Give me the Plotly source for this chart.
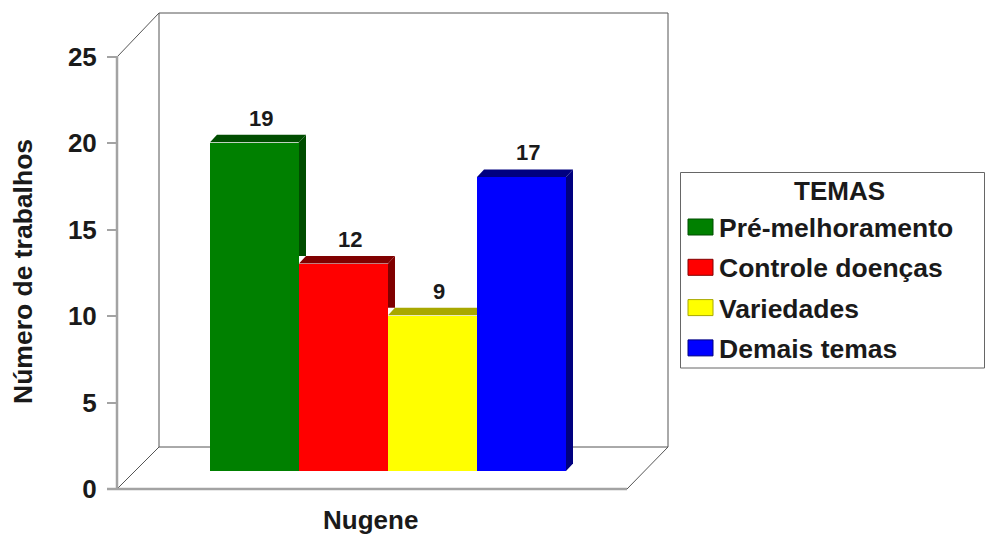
import plotly.graph_objects as go

categories = ["Pré-melhoramento", "Controle doenças", "Variedades", "Demais temas"]
values = [19, 12, 9, 17]
front_colors = ["#008000", "#ff0000", "#ffff00", "#0000ff"]
dark_colors = ["#004d00", "#800000", "#a8a800", "#000080"]
y_ticks = [0, 5, 10, 15, 20, 25]
legend_title = "TEMAS"
x_title = "Nugene"
y_title = "Número de trabalhos"

W, H = 985, 536
FONT = "Liberation Sans, Arial, sans-serif"
TXT = "#1a1a1a"
PX_Y = 17.3
PX_X = 89.0
X0 = 254.5
AX_L, AX_R, AX_B, AX_T = 117, 668, 489, 13
BAR_B = 471
DX, DY = 7 / PX_X, 7.5 / PX_Y


def px(x):
    return x / W


def py(y):
    return 1 - y / H


positions = list(range(len(values)))
fig = go.Figure()

# invisible carrier so the unshifted tick axis gets drawn
fig.add_trace(go.Scatter(x=positions[:1], y=y_ticks[:1], mode="markers", marker=dict(opacity=0),
                         hoverinfo="skip", showlegend=False))

# depth faces (clipped against the neighbouring bar, which stands in front)
for i, (p, v) in enumerate(zip(positions, values)):
    x0, x1 = p - 0.5, p + 0.5
    nxt = values[i + 1] if i + 1 < len(values) else None
    if nxt is None or nxt < v:
        low = DY if nxt is None else nxt + DY
        low_front = 0 if nxt is None else low
        fig.add_trace(go.Scatter(x=[x1, x1 + DX, x1 + DX, x1, x1], y=[v, v + DY, low, low_front, v],
                                 mode="lines", fill="toself", fillcolor=dark_colors[i],
                                 line=dict(width=0, color=dark_colors[i]), yaxis="y2",
                                 hoverinfo="skip", showlegend=False))
        right = x1 + DX
    else:
        right = x1
    fig.add_trace(go.Scatter(x=[x0, x0 + DX, right, x1, x0], y=[v, v + DY, v + DY, v, v],
                             mode="lines", fill="toself", fillcolor=dark_colors[i],
                             line=dict(width=0, color=dark_colors[i]), yaxis="y2",
                             hoverinfo="skip", showlegend=False))

fig.add_trace(go.Bar(x=positions, y=values, width=1, marker=dict(color=front_colors, line=dict(width=0)),
                     yaxis="y2", showlegend=False, customdata=categories,
                     hovertemplate="%{customdata}: %{y}<extra></extra>"))
fig.add_trace(go.Scatter(x=[p + 0.075 for p in positions], y=[v + DY + 3.5 / PX_Y for v in values], yaxis="y2",
                         mode="text", text=[str(v) for v in values], textposition="top center",
                         textfont=dict(family=FONT, size=22, color=TXT, weight="bold"),
                         hoverinfo="skip", showlegend=False, cliponaxis=False))

GREY, DARK = "#a3a3a3", "#555555"
segs = [
    (159, 13, 668, 13, DARK, 1), (159, 13, 159, 447, DARK, 1), (668, 13, 668, 447, DARK, 1),
    (159, 447, 668, 447, DARK, 1), (117, 57, 159, 13, DARK, 1), (117, 489, 159, 447, DARK, 1),
    (627, 489, 668, 447, DARK, 1), (117, 56, 117, 489, GREY, 2.5), (107, 489, 627, 489, GREY, 2.5),
]
shapes = [dict(type="line", xref="paper", yref="paper", x0=px(a), y0=py(b), x1=px(c), y1=py(d),
               line=dict(color=col, width=w), layer="below") for a, b, c, d, col, w in segs]

annotations = [
    dict(text=f"<b>{x_title}</b>", x=px(370), y=py(520), font=dict(size=26)),
    dict(text=f"<b>{y_title}</b>", x=px(23), y=py(272), textangle=-90, font=dict(size=26.5)),
]

# legend box
shapes.append(dict(type="rect", xref="paper", yref="paper", x0=px(680.5), y0=py(172.5), x1=px(984.5), y1=py(368),
                   line=dict(color="#666666", width=1), fillcolor="white", layer="below"))
annotations.append(dict(text=f"<b>{legend_title}</b>", x=px(839), y=py(191), font=dict(size=26)))
for k, (name, c, d) in enumerate(zip(categories, front_colors, dark_colors)):
    yc = 227 + k * 40.3
    shapes.append(dict(type="rect", xref="paper", yref="paper", x0=px(688), x1=px(713), y0=py(yc - 8), y1=py(yc + 8),
                       line=dict(color=d, width=1), fillcolor=c, layer="above"))
    annotations.append(dict(text=f"<b>{name}</b>", x=px(717), y=py(yc + 1), xanchor="left", font=dict(size=26.5)))
for a in annotations:
    a.update(xref="paper", yref="paper", showarrow=False, yanchor="middle")
    a.setdefault("xanchor", "center")
    a["font"].update(family=FONT, color=TXT)

x_range = [(AX_L - X0) / PX_X, (AX_R - X0) / PX_X]
fig.update_layout(
    width=W, height=H, margin=dict(l=0, r=0, t=0, b=0, autoexpand=False), paper_bgcolor="white",
    plot_bgcolor="rgba(0,0,0,0)", shapes=shapes, annotations=annotations, showlegend=False, bargap=0,
    xaxis=dict(domain=[px(AX_L), px(AX_R)], range=x_range, visible=False, fixedrange=True, automargin=False),
    yaxis=dict(domain=[py(AX_B), py(AX_B - 25 * PX_Y)], range=[0, 25], tickvals=y_ticks, ticks="outside", ticklen=9,
               tickwidth=2, tickcolor=GREY, showgrid=False, zeroline=False, showline=False, fixedrange=True,
               automargin=False, ticklabelstandoff=5,
               tickfont=dict(family=FONT, size=26, color=TXT, weight="bold")),
    yaxis2=dict(domain=[py(BAR_B), py(BAR_B - 25 * PX_Y)], range=[0, 25], anchor="x", visible=False,
                fixedrange=True, automargin=False),
)
fig.write_html("out.html", post_script="document.body.style.margin='0';", config={"displayModeBar": False})
